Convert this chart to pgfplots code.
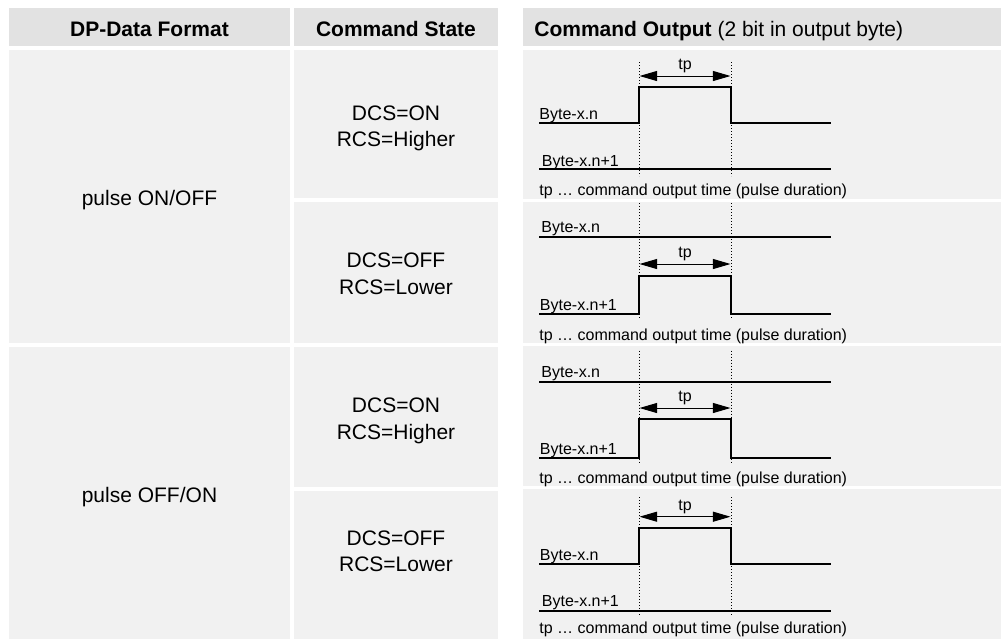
\documentclass[border=0pt]{standalone}
\usepackage{pgfplots}
\pgfplotsset{compat=1.18}
\usepackage{fontspec}
\setmainfont{Liberation Sans}
\usetikzlibrary{arrows.meta}
\definecolor{hdr}{HTML}{E2E2E2}
\definecolor{cell}{HTML}{F1F1F1}
\newcommand{\bigf}{\fontsize{10.5pt}{12pt}\selectfont}
\newcommand{\smf}{\fontsize{8pt}{9.6pt}\selectfont}
\tikzset{
  wave/.style={black, line width=0.95pt},
  dotv/.style={black, line width=0.45pt, dash pattern=on 0.45pt off 1.05pt},
  tparrow/.style={black, line width=0.5pt, {Triangle[length=8.8pt,width=5pt]}-{Triangle[length=8.8pt,width=5pt]}},
  lab/.style={anchor=base west, inner sep=0pt, font=\smf},
  ctr/.style={anchor=base, inner sep=0pt, font=\bigf},
}
\begin{document}
\begin{tikzpicture}
\begin{axis}[
  width=500.5pt, height=319.5pt, scale only axis,
  xmin=0, xmax=1001, ymin=0, ymax=639, y dir=reverse,
  hide axis, clip=false, no markers,
]
% background
\addplot[fill=white, draw=none] coordinates {(0,0) (1001,0) (1001,639) (0,639)};
% header cells
\addplot[fill=hdr, draw=none] coordinates {(9,8) (290,8) (290,46) (9,46)};
\addplot[fill=hdr, draw=none] coordinates {(294,8) (498,8) (498,46) (294,46)};
\addplot[fill=hdr, draw=none] coordinates {(523,8) (1001,8) (1001,46) (523,46)};
% column 1
\addplot[fill=cell, draw=none] coordinates {(9,50) (290,50) (290,343) (9,343)};
\addplot[fill=cell, draw=none] coordinates {(9,347) (290,347) (290,639) (9,639)};
% column 2
\addplot[fill=cell, draw=none] coordinates {(294,50) (498,50) (498,197.5) (294,197.5)};
\addplot[fill=cell, draw=none] coordinates {(294,202.3) (498,202.3) (498,342.7) (294,342.7)};
\addplot[fill=cell, draw=none] coordinates {(294,347.3) (498,347.3) (498,486.7) (294,486.7)};
\addplot[fill=cell, draw=none] coordinates {(294,491) (498,491) (498,639) (294,639)};
% column 3
\addplot[fill=cell, draw=none] coordinates {(523,50) (1001,50) (1001,199) (523,199)};
\addplot[fill=cell, draw=none] coordinates {(523,202.3) (1001,202.3) (1001,342.8) (523,342.8)};
\addplot[fill=cell, draw=none] coordinates {(523,346) (1001,346) (1001,486) (523,486)};
\addplot[fill=cell, draw=none] coordinates {(523,489) (1001,489) (1001,639) (523,639)};

% header text
\node[ctr, font=\bigf\bfseries] at (axis cs:149.5,36) {DP-Data Format};
\node[ctr, font=\bigf\bfseries] at (axis cs:396,36) {Command State};
\node[anchor=base west, inner sep=0pt, font=\bigf] at (axis cs:534,36) {\textbf{Command Output} (2 bit in output byte)};

% column 1 / 2 text
\node[ctr] at (axis cs:149.5,205) {pulse ON/OFF};
\node[ctr] at (axis cs:149.5,502.3) {pulse OFF/ON};
\node[ctr] at (axis cs:396,120.2) {DCS=ON};
\node[ctr] at (axis cs:396,146.6) {RCS=Higher};
\node[ctr] at (axis cs:396,267.3) {DCS=OFF};
\node[ctr] at (axis cs:396,294.3) {RCS=Lower};
\node[ctr] at (axis cs:396,412.3) {DCS=ON};
\node[ctr] at (axis cs:396,439) {RCS=Higher};
\node[ctr] at (axis cs:396,545) {DCS=OFF};
\node[ctr] at (axis cs:396,571.6) {RCS=Lower};

% ---- row 1 ----
\addplot[dotv] coordinates {(639,62) (639,176)};
\addplot[dotv] coordinates {(731,62) (731,176)};
\addplot[tparrow] coordinates {(639.5,76) (730.5,76)};
\addplot[wave] coordinates {(539,123.3) (639,123.3) (639,86.7) (731,86.7) (731,123.3) (831,123.3)};
\addplot[wave] coordinates {(539,169.3) (831,169.3)};
\node[lab] at (axis cs:539,119.5) {Byte-x.n};
\node[lab] at (axis cs:541.5,166.3) {Byte-x.n+1};
\node[anchor=base, inner sep=0pt, font=\smf] at (axis cs:685,69.5) {tp};
\node[lab] at (axis cs:539,195) {tp … command output time (pulse duration)};

% ---- row 2 ----
\addplot[dotv] coordinates {(639,203) (639,319)};
\addplot[dotv] coordinates {(731,203) (731,319)};
\addplot[tparrow] coordinates {(639.5,264) (730.5,264)};
\addplot[wave] coordinates {(539,236.7) (831,236.7)};
\addplot[wave] coordinates {(539,313.7) (639,313.7) (639,276) (731,276) (731,313.7) (831,313.7)};
\node[lab] at (axis cs:541,232.7) {Byte-x.n};
\node[lab] at (axis cs:539.5,310) {Byte-x.n+1};
\node[anchor=base, inner sep=0pt, font=\smf] at (axis cs:685,257.5) {tp};
\node[lab] at (axis cs:539,340) {tp … command output time (pulse duration)};

% ---- row 3 ----
\addplot[dotv] coordinates {(639,350.7) (639,464)};
\addplot[dotv] coordinates {(731,350.7) (731,464)};
\addplot[tparrow] coordinates {(639.5,408) (730.5,408)};
\addplot[wave] coordinates {(539,381.7) (831,381.7)};
\addplot[wave] coordinates {(539,457.7) (639,457.7) (639,419) (731,419) (731,457.7) (831,457.7)};
\node[lab] at (axis cs:541,377) {Byte-x.n};
\node[lab] at (axis cs:539.5,454) {Byte-x.n+1};
\node[anchor=base, inner sep=0pt, font=\smf] at (axis cs:685,401.5) {tp};
\node[lab] at (axis cs:539,483.3) {tp … command output time (pulse duration)};

% ---- row 4 ----
\addplot[dotv] coordinates {(639,497) (639,616.7)};
\addplot[dotv] coordinates {(731,497) (731,616.7)};
\addplot[tparrow] coordinates {(639.5,516.7) (730.5,516.7)};
\addplot[wave] coordinates {(539,564.3) (639,564.3) (639,527.7) (731,527.7) (731,564.3) (831,564.3)};
\addplot[wave] coordinates {(539,610.7) (831,610.7)};
\node[lab] at (axis cs:539.5,560) {Byte-x.n};
\node[lab] at (axis cs:541.5,606.7) {Byte-x.n+1};
\node[anchor=base, inner sep=0pt, font=\smf] at (axis cs:685,510) {tp};
\node[lab] at (axis cs:539,633.3) {tp … command output time (pulse duration)};
\end{axis}
\end{tikzpicture}
\end{document}
